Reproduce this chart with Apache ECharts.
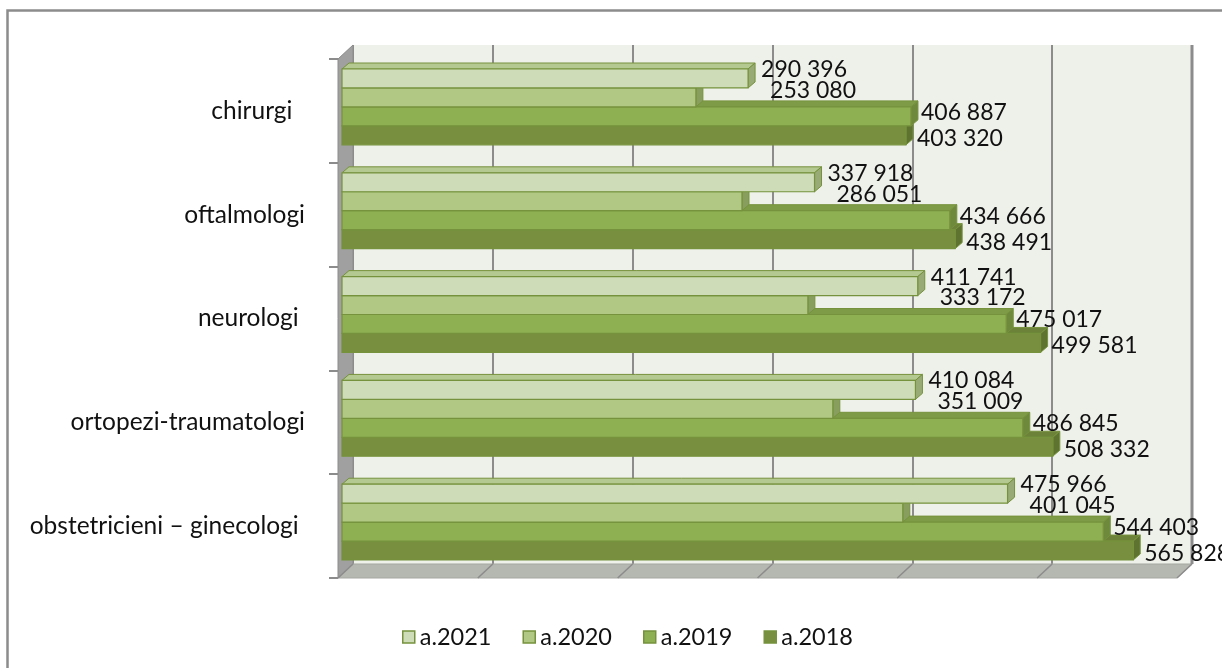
<!DOCTYPE html>
<html>
<head>
<meta charset="utf-8">
<script src="https://cdn.jsdelivr.net/npm/echarts@6/dist/echarts.min.js"></script>
<style>
  html, body { margin: 0; padding: 0; background: #ffffff; }
  #chart { width: 1222px; height: 668px; }
</style>
</head>
<body>
<div id="chart"></div>
<script>
// Specialists by category, yearly totals
const categories = ['chirurgi  ', 'oftalmologi', 'neurologi ', 'ortopezi-traumatologi', 'obstetricieni – ginecologi '];
const seriesNames = ['a.2021', 'a.2020', 'a.2019', 'a.2018'];
const values2021 = [290396, 337918, 411741, 410084, 475966];
const values2020 = [253080, 286051, 333172, 351009, 401045];
const values2019 = [406887, 434666, 475017, 486845, 544403];
const values2018 = [403320, 438491, 499581, 508332, 565828];
const xTicks = [0, 100000, 200000, 300000, 400000, 500000, 600000];

const allValues = [values2021, values2020, values2019, values2018];

// pseudo-3D layout: front plane, bar plane and back wall
const FRONT = { left: 338, top: 59, width: 839, height: 519 };
const DEPTH = [15, -14];
const BAR_SHIFT = [4, -4];
const BAR_DEPTH = [7, -6];
const GROUP_FRACTION = 0.73;
const FONT = '23px Lato';
const TEXT_COLOR = '#111111';

const faceColors = [
  { front: '#cfdcb8', top: '#b4c892', side: '#98ab76' },
  { front: '#b0c884', top: '#9cb672', side: '#889e5e' },
  { front: '#8eaf52', top: '#7e9c47', side: '#6e893c' },
  { front: '#778f3f', top: '#6b8238', side: '#5e7330' }
];
const OUTLINE = '#76923c';

const fmt = v => String(v).replace(/\B(?=(\d{3})+(?!\d))/g, ' ');

const chart = echarts.init(document.getElementById('chart'), null, { renderer: 'canvas' });

function makeRender(slot) {
  return function (params, api) {
    const cat = api.value(1);
    const val = api.value(0);
    const p0 = api.coord([0, cat]);
    const p1 = api.coord([val, cat]);
    const band = api.size([0, 1])[1];
    const bw = band * GROUP_FRACTION / 4;
    const y0 = p0[1] - 2 * bw + slot * bw;
    const x0 = p0[0], x1 = p1[0];
    const dx = BAR_DEPTH[0], dy = BAR_DEPTH[1];
    const c = faceColors[slot];
    const zb = 10 + (3 - slot) * 3;
    const yc = y0 + bw / 2;

    // label placement per year
    let lx, ly;
    if (slot === 0) { lx = x1 + dx + 6; ly = yc - 9; }
    else if (slot === 1) {
      const ref = api.coord([values2021[params.dataIndex], cat])[0];
      lx = Math.max(ref, x1) + dx + 15; ly = yc - 7;
    }
    else if (slot === 2) { lx = x1 + dx + 3; ly = yc - 4; }
    else { lx = x1 + dx + 4; ly = yc + 3; }

    return {
      type: 'group',
      children: [
        {
          type: 'polygon', z2: zb,
          shape: { points: [[x0, y0], [x0 + dx, y0 + dy], [x1 + dx, y0 + dy], [x1, y0]] },
          style: { fill: c.top, stroke: OUTLINE, lineWidth: 1 }
        },
        {
          type: 'polygon', z2: zb + 1,
          shape: { points: [[x1, y0], [x1 + dx, y0 + dy], [x1 + dx, y0 + bw + dy], [x1, y0 + bw]] },
          style: { fill: c.side, stroke: OUTLINE, lineWidth: 1 }
        },
        {
          type: 'rect', z2: zb + 2,
          shape: { x: x0, y: y0, width: x1 - x0, height: bw },
          style: { fill: c.front, stroke: OUTLINE, lineWidth: 1.2 }
        },
        {
          type: 'text', z2: 100, x: lx, y: ly,
          style: { text: fmt(val), fill: TEXT_COLOR, font: FONT, align: 'left', verticalAlign: 'middle' }
        }
      ]
    };
  };
}

const series = seriesNames.map((name, slot) => ({
  name: name,
  type: 'custom',
  xAxisIndex: 1,
  yAxisIndex: 1,
  clip: false,
  silent: true,
  z: 2,
  itemStyle: { color: faceColors[slot].front, borderColor: OUTLINE, borderWidth: 1.5 },
  encode: { x: 0, y: 1 },
  data: allValues[slot].map((v, i) => [v, i]),
  renderItem: makeRender(slot)
}));

const gridOf = (shift) => ({
  left: FRONT.left + shift[0],
  top: FRONT.top + shift[1],
  width: FRONT.width,
  height: FRONT.height,
  outerBoundsMode: 'none',
  containLabel: false
});

const xMax = xTicks[xTicks.length - 1];
const xStep = xTicks[1] - xTicks[0];

const option = {
  animation: false,
  backgroundColor: '#ffffff',
  textStyle: { fontFamily: 'Lato' },
  grid: [
    Object.assign(gridOf(DEPTH), { show: true, backgroundColor: '#eef0ea', borderWidth: 0 }),
    gridOf(BAR_SHIFT),
    gridOf([0, 0])
  ],
  xAxis: [0, 1, 2].map(g => ({
    type: 'value', gridIndex: g, min: xTicks[0], max: xMax, interval: xStep,
    axisLine: { show: false }, axisTick: { show: false }, axisLabel: { show: false },
    splitLine: { show: g === 0, lineStyle: { color: '#8c8c8c', width: 2 } }
  })),
  yAxis: [0, 1, 2].map(g => ({
    type: 'category', gridIndex: g, data: categories, inverse: true,
    axisLine: { show: false },
    axisTick: { show: g === 2, length: 9, lineStyle: { color: '#8c8c8c', width: 2 } },
    axisLabel: {
      show: g === 2, margin: 33, color: TEXT_COLOR,
      fontFamily: 'Lato', fontSize: 24.5
    },
    splitLine: { show: false }
  })),
  legend: {
    left: 397, top: 620,
    icon: 'rect', itemWidth: 12, itemHeight: 12, itemGap: 31,
    selectedMode: false,
    textStyle: { fontFamily: 'Lato', fontSize: 23.5, color: TEXT_COLOR, padding: [0, 0, 0, 0] },
    data: seriesNames.map((n, i) => ({
      name: n,
      itemStyle: { color: faceColors[i].front, borderColor: OUTLINE, borderWidth: 1.5 }
    }))
  },
  series: series
};

chart.setOption(option);

// walls, floor, floor ticks and frame
const fl = FRONT.left, ft = FRONT.top, fb = FRONT.top + FRONT.height, fr = FRONT.left + FRONT.width;
const bl = fl + DEPTH[0], bt = ft + DEPTH[1], bb = fb + DEPTH[1], br = fr + DEPTH[0];
const graphics = [
  {
    type: 'polygon', z: 1, silent: true,
    shape: { points: [[fl, ft], [bl, bt], [bl, bb], [fl, fb]] },
    style: { fill: '#a0a0a0', stroke: '#8c8c8c', lineWidth: 1 }
  },
  {
    type: 'polygon', z: 1, silent: true,
    shape: { points: [[fl, fb], [bl, bb], [br, bb], [fr, fb]] },
    style: { fill: '#b5b7b1', stroke: '#a5a7a1', lineWidth: 1 }
  },
  {
    type: 'line', z: 1, silent: true,
    shape: { x1: br, y1: bt, x2: br, y2: bb },
    style: { stroke: '#8c8c8c', lineWidth: 3 }
  },
  {
    type: 'rect', z: 1, silent: true,
    shape: { x: 7.5, y: 10.5, width: 1400, height: 800 },
    style: { fill: 'none', stroke: '#8c8c8c', lineWidth: 2.5 }
  }
];
xTicks.forEach(v => {
  const bx = chart.convertToPixel({ xAxisIndex: 0 }, v);
  const fx = chart.convertToPixel({ xAxisIndex: 2 }, v);
  graphics.push({
    type: 'line', z: 1, silent: true,
    shape: { x1: bx, y1: bb, x2: fx, y2: fb },
    style: { stroke: '#8c8c8c', lineWidth: 1.5 }
  });
});
chart.setOption({ graphic: graphics });
</script>
</body>
</html>
